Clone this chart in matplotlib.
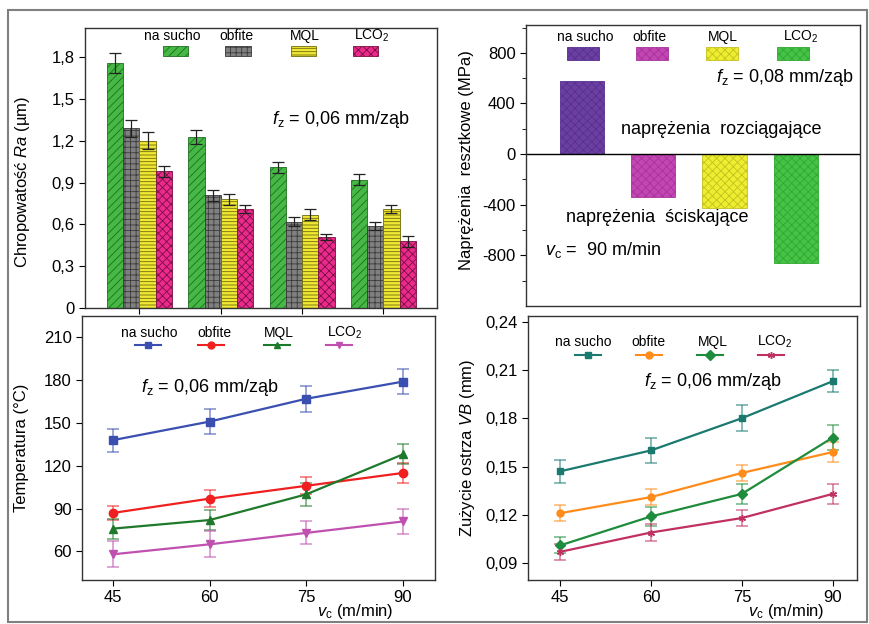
import numpy as np
import matplotlib
matplotlib.use("Agg")
import matplotlib.pyplot as plt
from matplotlib.colors import to_rgba
from matplotlib.lines import Line2D
from matplotlib.patches import Rectangle

plt.rcParams["font.family"] = ["Liberation Sans", "DejaVu Sans"]
plt.rcParams["mathtext.fontset"] = "custom"
plt.rcParams["mathtext.rm"] = "Liberation Sans"
plt.rcParams["mathtext.it"] = "Liberation Sans:italic"
plt.rcParams["hatch.linewidth"] = 0.6
plt.rcParams["axes.unicode_minus"] = False

# data
methods = ["na sucho", "obfite", "MQL", "LCO$_2$"]
vc = [45, 60, 75, 90]

ra_dry = [1.76, 1.23, 1.01, 0.92]
ra_flood = [1.29, 0.81, 0.62, 0.59]
ra_mql = [1.20, 0.78, 0.67, 0.71]
ra_lco2 = [0.98, 0.71, 0.51, 0.48]
ra_dry_err = [0.07, 0.05, 0.04, 0.04]
ra_flood_err = [0.06, 0.04, 0.03, 0.03]
ra_mql_err = [0.06, 0.04, 0.04, 0.03]
ra_lco2_err = [0.04, 0.03, 0.02, 0.04]

stress = [576, -337, -429, -858]

temp_dry = [138, 151, 167, 179]
temp_flood = [87, 97, 106, 115]
temp_mql = [76, 82, 100, 128]
temp_lco2 = [58, 65, 73, 81]
temp_dry_err = [8, 9, 9, 9]
temp_flood_err = [5, 6, 6, 7]
temp_mql_err = [7, 7, 8, 7]
temp_lco2_err = [9, 9, 8, 9]

vb_dry = [0.147, 0.160, 0.180, 0.203]
vb_flood = [0.121, 0.131, 0.146, 0.159]
vb_mql = [0.101, 0.119, 0.133, 0.168]
vb_lco2 = [0.097, 0.109, 0.118, 0.133]
vb_dry_err = [0.007, 0.008, 0.008, 0.007]
vb_flood_err = [0.005, 0.005, 0.005, 0.006]
vb_mql_err = [0.005, 0.006, 0.006, 0.008]
vb_lco2_err = [0.005, 0.005, 0.005, 0.006]

W, H = 870, 624


def fx(x):
    return x / W


def fy(y):
    return 1 - y / H


def rect(l, t, r, b):
    return [l / W, 1 - b / H, (r - l) / W, (b - t) / H]


def fig_text(fig, x, y, s, **kw):
    kw.setdefault("ha", "center")
    kw.setdefault("va", "center")
    kw.setdefault("fontsize", 12)
    fig.text(fx(x), fy(y), s, **kw)


def bar_legend(fig, entries, text_y, box_y, box_w, box_h, styles):
    for (label, tx, bx), (face, edge, hatch) in zip(entries, styles):
        fig_text(fig, tx, text_y, label, fontsize=10)
        fig.add_artist(Rectangle((fx(bx - box_w / 2), fy(box_y + box_h)),
                                 box_w / W, box_h / H, facecolor=face,
                                 edgecolor=edge, hatch=hatch, lw=0.6,
                                 transform=fig.transFigure))


def line_legend(fig, entries, text_y, line_y, styles):
    for (label, tx, lx), (color, marker) in zip(entries, styles):
        fig_text(fig, tx, text_y, label, fontsize=10)
        fig.add_artist(Line2D([fx(lx - 13), fx(lx + 13)], [fy(line_y)] * 2,
                              color=color, lw=1.5,
                              transform=fig.transFigure))
        fig.add_artist(Line2D([fx(lx)], [fy(line_y)], color=color,
                              marker=marker, markersize=5, lw=0,
                              transform=fig.transFigure))


fig = plt.figure(figsize=(8.7, 6.24), dpi=100)
fig.add_artist(Rectangle((fx(8), fy(622)), (867 - 8) / W, (622 - 10) / H,
                         fill=False, edgecolor="#808080", lw=1.5,
                         transform=fig.transFigure))

# --- roughness bars
ax1 = fig.add_axes(rect(85, 28, 437, 308))
ra_styles = [("#46b846", "#1e6e1e", "////"), ("#808080", "#3a3a3a", "+++"),
             ("#f0e832", "#6e6a10", "-----"), ("#ea2a8c", "#7a1040", "xxxx")]
x = np.arange(len(vc))
ra_vals = [ra_dry, ra_flood, ra_mql, ra_lco2]
ra_errs = [ra_dry_err, ra_flood_err, ra_mql_err, ra_lco2_err]
for i, (vals, errs) in enumerate(zip(ra_vals, ra_errs)):
    face, edge, hatch = ra_styles[i]
    ax1.bar(x + (i - 1.5) * 0.2, vals, 0.2, yerr=errs, color=face,
            edgecolor=edge, hatch=hatch, lw=0.6,
            error_kw=dict(ecolor="#222222", capsize=4, elinewidth=0.9,
                          capthick=0.9))
ax1.set_xlim(-0.67, 3.66)
ax1.set_ylim(0, 2.01)
ax1.set_xticks(x)
ax1.set_xticklabels([])
ra_ticks = [0, 0.3, 0.6, 0.9, 1.2, 1.5, 1.8]
ax1.set_yticks(ra_ticks)
ax1.set_yticklabels(["0", "0,3", "0,6", "0,9", "1,2", "1,5", "1,8"])
ax1.set_ylabel("Chropowatość $Ra$ (µm)", fontsize=12)
ax1.yaxis.set_label_coords(-0.15, 0.45)
bar_legend(fig, [(methods[0], 172, 176), (methods[1], 236, 238),
                 (methods[2], 305, 303), (methods[3], 372, 366)],
           36, 46, 25, 10, ra_styles)
fig_text(fig, 341, 120, r"$f_{\rm z}$ = 0,06 mm/ząb", fontsize=13)

# --- residual stress bars
ax2 = fig.add_axes(rect(526, 25, 860, 306))
st_styles = [("#6b3fa0", "#553090", "xxxx"), ("#c445b4", "#a4359a", "xxxx"),
             ("#eeee30", "#c4c020", "xxxx"), ("#46c246", "#30a830", "xxxx")]
for i, val in enumerate(stress):
    face, edge, hatch = st_styles[i]
    ax2.bar(i, val, 0.62, color=face, edgecolor=edge, hatch=hatch, lw=0.6)
ax2.axhline(0, color="black", lw=1)
ax2.set_xlim(-0.78, 3.9)
ax2.set_ylim(-1200, 1020)
ax2.set_xticks([])
ax2.set_yticks([-800, -400, 0, 400, 800])
ax2.set_yticks(np.arange(-1000, 1001, 200), minor=True)
ax2.tick_params(axis="y", which="minor", direction="out", length=3)
ax2.set_ylabel("Naprężenia  resztkowe (MPa)", fontsize=12)
ax2.yaxis.set_label_coords(-0.155, 0.52)
bar_legend(fig, [(methods[0], 585, 583), (methods[1], 649, 652),
                 (methods[2], 723, 722), (methods[3], 801, 793)],
           37, 47, 32, 13, st_styles)
fig_text(fig, 785, 78, r"$f_{\rm z}$ = 0,08 mm/ząb", fontsize=13)
fig_text(fig, 721, 130, "naprężenia  rozciągające", fontsize=13)
fig_text(fig, 657, 218, "naprężenia  ściskające", fontsize=13)
fig_text(fig, 545, 250, r"$v_{\rm c}$ =  90 m/min", fontsize=13, ha="left")

# --- temperature lines
ax3 = fig.add_axes(rect(82, 316, 435, 580))
temp_styles = [("#3a4fb0", "s"), ("#f02020", "o"), ("#1e7a2a", "^"),
               ("#c050b0", "v")]
temp_vals = [temp_dry, temp_flood, temp_mql, temp_lco2]
temp_errs = [temp_dry_err, temp_flood_err, temp_mql_err, temp_lco2_err]
for vals, errs, (color, marker) in zip(temp_vals, temp_errs, temp_styles):
    ax3.errorbar(vc, vals, yerr=errs, color=color, marker=marker,
                 markersize=6, lw=1.6, ecolor=to_rgba(color, 0.6),
                 elinewidth=1.2, capsize=4, capthick=1.2)
ax3.set_xlim(40.2, 95)
ax3.set_ylim(40, 225)
ax3.set_xticks(vc)
ax3.set_yticks([60, 90, 120, 150, 180, 210])
ax3.set_ylabel("Temperatura (°C)", fontsize=12)
ax3.yaxis.set_label_coords(-0.15, 0.5)
ax3.text(0.775, -0.12, r"$v_{\rm c}$ (m/min)", transform=ax3.transAxes,
         ha="center", va="center", fontsize=12)
line_legend(fig, [(methods[0], 149, 148), (methods[1], 214, 211),
                  (methods[2], 279, 277), (methods[3], 345, 339)],
            333, 345, temp_styles)
fig_text(fig, 210, 387, r"$f_{\rm z}$ = 0,06 mm/ząb", fontsize=13)

# --- tool wear lines
ax4 = fig.add_axes(rect(528, 316, 857, 580))
vb_styles = [("#1a7a70", "s"), ("#ff8c1a", "o"), ("#1e8c3c", "D"),
             ("#c03060", (6, 2, 0))]
vb_vals = [vb_dry, vb_flood, vb_mql, vb_lco2]
vb_errs = [vb_dry_err, vb_flood_err, vb_mql_err, vb_lco2_err]
for vals, errs, (color, marker) in zip(vb_vals, vb_errs, vb_styles):
    ax4.errorbar(vc, vals, yerr=errs, color=color, marker=marker,
                 markersize=5, lw=1.6, ecolor=to_rgba(color, 0.6),
                 elinewidth=1.2, capsize=4, capthick=1.2)
ax4.set_xlim(39.7, 94)
ax4.set_ylim(0.0795, 0.2435)
ax4.set_xticks(vc)
vb_ticks = [0.09, 0.12, 0.15, 0.18, 0.21, 0.24]
ax4.set_yticks(vb_ticks)
ax4.set_yticklabels(["0,09", "0,12", "0,15", "0,18", "0,21", "0,24"])
ax4.set_ylabel("Zużycie ostrza $VB$ (mm)", fontsize=12)
ax4.yaxis.set_label_coords(-0.155, 0.5)
ax4.text(0.785, -0.12, r"$v_{\rm c}$ (m/min)", transform=ax4.transAxes,
         ha="center", va="center", fontsize=12)
line_legend(fig, [(methods[0], 583, 588), (methods[1], 648, 649),
                  (methods[2], 713, 710), (methods[3], 775, 771)],
            342, 355, vb_styles)
fig_text(fig, 713, 382, r"$f_{\rm z}$ = 0,06 mm/ząb", fontsize=13)

for ax in (ax1, ax2, ax3, ax4):
    ax.tick_params(direction="out", length=4, labelsize=12)
    for sp in ax.spines.values():
        sp.set_linewidth(1.0)
        sp.set_color("#333333")

fig.savefig("out.png", dpi=100)
